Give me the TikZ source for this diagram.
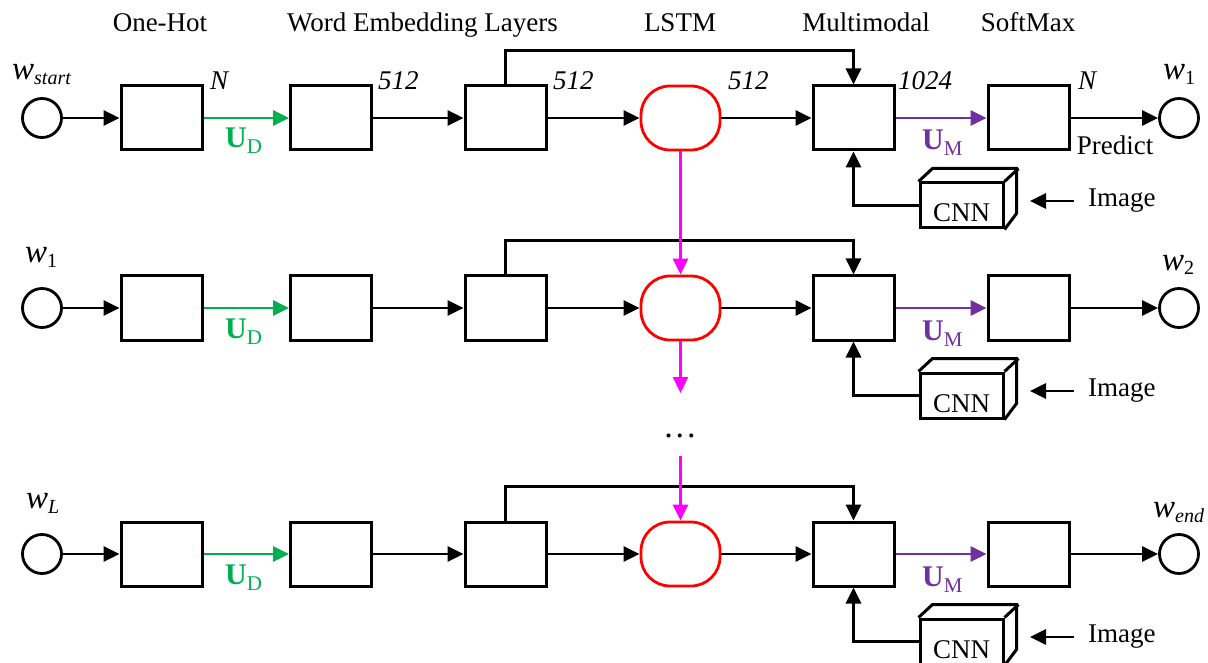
\documentclass[tikz,border=0pt]{standalone}
\usepackage{fontspec}
\setmainfont{Liberation Serif}
\usetikzlibrary{arrows.meta}
\definecolor{ugreen}{RGB}{0,176,80}
\definecolor{upurple}{RGB}{112,48,160}
\definecolor{lred}{RGB}{255,0,0}
\definecolor{mag}{RGB}{255,0,255}
\newcommand{\wlab}[1]{{\fontsize{33}{33}\selectfont\itshape w}\raisebox{-5pt}{\fontsize{20}{20}\selectfont #1}}
\newcommand{\umat}[1]{{\fontsize{30}{30}\selectfont\bfseries U}\raisebox{-6pt}{\fontsize{21}{21}\selectfont #1}}
\begin{document}
\begin{tikzpicture}[x=1pt,y=-1pt,
  font=\fontsize{27}{30}\selectfont,
  box/.style={draw, line width=3pt, minimum width=81pt, minimum height=64pt, inner sep=0pt},
  wc/.style={draw, circle, line width=2.8pt, minimum size=39pt, inner sep=0pt},
  lstm/.style={draw=lred, line width=2.8pt, rounded corners=29pt, minimum width=79pt, minimum height=64pt, inner sep=0pt},
  cnn/.style={draw, line width=3pt, minimum width=83pt, minimum height=45pt, inner ysep=0pt, inner xsep=0pt, text height=38pt, text depth=5pt},
  cnnface/.style={line width=3pt, line join=miter},
  arr/.style={-{Triangle[length=16pt,width=15pt]}, line width=2.8pt},
  garr/.style={-{Triangle[length=16pt,width=15pt]}, line width=2.8pt, draw=ugreen, fill=ugreen},
  parr/.style={-{Triangle[length=16pt,width=15pt]}, line width=2.8pt, draw=upurple, fill=upurple},
  marr/.style={-{Triangle[length=16pt,width=15pt]}, line width=2.4pt, draw=mag, fill=mag},
  txt/.style={inner sep=0pt},
  imgtxt/.style={inner xsep=14pt, inner ysep=0pt, anchor=west},
  num/.style={inner sep=0pt, anchor=base west, font=\fontsize{27}{30}\selectfont\itshape}
]
\useasboundingbox (0,0) rectangle (1208,663);

% headers
\node[txt, anchor=base] (h1) at (160,32) {One-Hot};
\node[txt, anchor=base] (h2) at (422.5,32) {Word Embedding Layers};
\node[txt, anchor=base] (h3) at (680,32) {LSTM};
\node[txt, anchor=base] (h4) at (866,32) {Multimodal};
\node[txt, anchor=base] (h5) at (1028,32) {SoftMax};

\foreach \r/\y in {1/118,2/308,3/554}{
  \node[wc] (in\r) at (42,\y) {};
  \node[box] (a\r) at (161.5,\y) {};
  \node[box] (b\r) at (331,\y) {};
  \node[box] (c\r) at (505.5,\y) {};
  \node[lstm] (l\r) at (680.5,\y) {};
  \node[box] (m\r) at (853.5,\y) {};
  \node[box] (s\r) at (1028.5,\y) {};
  \node[wc] (out\r) at (1179,\y) {};
  \node[cnn] (cnn\r) at (961.5,\y+87.5) {CNN};
  \draw[cnnface] (cnn\r.north west) -- ++(14,-13) -- ++(84,0) -- ++(0,45) -- (cnn\r.south east);
  \draw[cnnface] (cnn\r.north east) -- ++(14,-13);
  \node[imgtxt] (img\r) at (1074,\y+83) {Image};
  \coordinate (ie\r) at (1030,\y+83);

  \draw[arr] (in\r) -- (a\r);
  \draw[garr] (a\r) -- (b\r);
  \node[txt, anchor=base west, text=ugreen] (ud\r) at (225,\y+30) {\umat{D}};
  \draw[arr] (b\r) -- (c\r);
  \draw[arr] (c\r) -- (l\r);
  \draw[arr] (l\r) -- (m\r);
  \draw[arr] (c\r.north) -- ++(0,-34) -| (m\r.north);
  \draw[parr] (m\r) -- (s\r);
  \node[txt, anchor=base west, text=upurple] (um\r) at (922,\y+32) {\umat{M}};
  \draw[arr] (s\r) -- (out\r);
  \draw[arr] (cnn\r.west) -| (m\r.south);
  \draw[arr] (img\r.west) -- (ie\r);
}

% word labels
\node[txt, anchor=base west] (ws) at (12,80) {\wlab{\itshape start}};
\node[txt, anchor=base west] (w1l) at (25,263) {\wlab{1}};
\node[txt, anchor=base west] (wLl) at (26,508) {\wlab{\itshape L}};
\node[txt, anchor=base west] (w1r) at (1163,80) {\wlab{1}};
\node[txt, anchor=base west] (w2r) at (1162,270) {\wlab{2}};
\node[txt, anchor=base west] (wer) at (1153,517) {\wlab{\itshape end}};

% dimension labels
\node[num] (n1) at (210,90) {N};
\node[num] (n2) at (378,90) {512};
\node[num] (n3) at (553,90) {512};
\node[num] (n4) at (728,90) {512};
\node[num] (n5) at (898,90) {1024};
\node[num] (n6) at (1078,90) {N};
\node[txt, anchor=base] (pred) at (1115,155) {Predict};

% recurrent connections
\coordinate (d1) at (680.5,393);
\coordinate (d2) at (680.5,456);
\draw[marr] (l1.south) -- (l2.north);
\draw[marr] (l2.south) -- (d1);
\draw[marr] (d2) -- (l3.north);
\node[txt, anchor=base, font=\fontsize{34}{34}\selectfont] (dots) at (680,437) {.\kern3pt.\kern3pt.};
\end{tikzpicture}
\end{document}
